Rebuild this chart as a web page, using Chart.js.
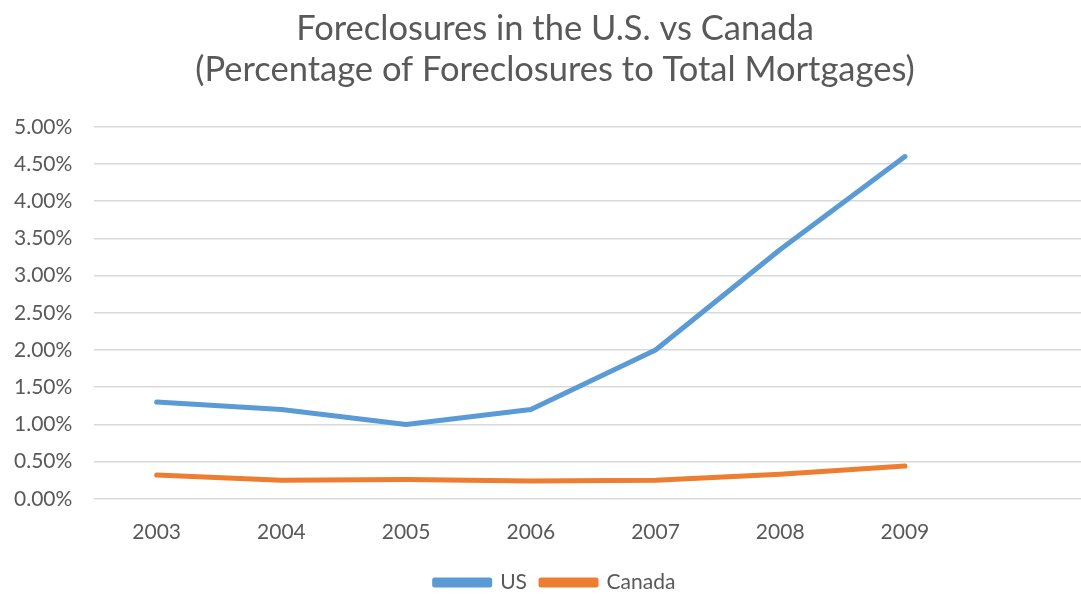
<!DOCTYPE html>
<html>
<head>
<meta charset="utf-8">
<script src="https://cdn.jsdelivr.net/npm/chart.js@4/dist/chart.umd.min.js"></script>
<style>
  html, body { margin: 0; padding: 0; background: #fff; overflow: hidden; }
  /* the source picture is a crop of a wider chart, so the chart runs past the right edge */
  .wrap { width: 1118px; height: 595px; position: relative; }
</style>
</head>
<body>
<div class="wrap"><canvas id="chart"></canvas></div>
<script>
// years on the x axis (last slot is empty, like the original sheet)
const years = ['2003', '2004', '2005', '2006', '2007', '2008', '2009', ''];
// percentage of foreclosures to total mortgages
const usValues = [1.30, 1.20, 1.00, 1.20, 2.00, 3.35, 4.60];
const canadaValues = [0.32, 0.25, 0.26, 0.24, 0.25, 0.33, 0.44];
const yTickMax = 5;
const yTickStep = 0.5;

const grey = '#595959';
Chart.defaults.font.family = 'Lato, "Open Sans", sans-serif';
Chart.defaults.color = grey;

new Chart(document.getElementById('chart'), {
  type: 'line',
  data: {
    labels: years,
    datasets: [
      {
        label: 'US',
        data: usValues,
        borderColor: '#5B9BD5',
        backgroundColor: '#5B9BD5',
        borderWidth: 5,
        pointRadius: 0,
        borderCapStyle: 'round',
        borderJoinStyle: 'round',
        tension: 0
      },
      {
        label: 'Canada',
        data: canadaValues,
        borderColor: '#ED7D31',
        backgroundColor: '#ED7D31',
        borderWidth: 5,
        pointRadius: 0,
        borderCapStyle: 'round',
        borderJoinStyle: 'round',
        tension: 0
      }
    ]
  },
  options: {
    responsive: true,
    maintainAspectRatio: false,
    animation: false,
    layout: { padding: { left: -8, right: 0, top: 8, bottom: -8 } },
    plugins: {
      title: {
        display: true,
        text: ['Foreclosures in the U.S. vs Canada', '(Percentage of Foreclosures to Total Mortgages)'],
        color: grey,
        font: { size: 34.5, weight: 'normal' },
        lineHeight: 1.3,
        padding: { top: 0, bottom: 36 }
      },
      legend: {
        position: 'bottom',
        labels: {
          boxWidth: 55,
          boxHeight: 5,
          font: { size: 21 },
          color: grey,
          padding: 14
        }
      },
      tooltip: { enabled: false }
    },
    scales: {
      x: {
        offset: true,
        grid: { display: false },
        border: { display: false },
        ticks: { font: { size: 21 }, color: grey, padding: 13, maxRotation: 0 }
      },
      y: {
        min: 0,
        max: yTickMax,
        grid: { color: '#D9D9D9', lineWidth: 1.5, drawTicks: false },
        border: { display: false },
        ticks: {
          stepSize: yTickStep,
          font: { size: 21 },
          color: grey,
          padding: 22,
          callback: v => v.toFixed(2) + '%'
        }
      },
      // empty spacer for the right margin of the original chart
      yRight: {
        position: 'right',
        grid: { display: false },
        border: { display: false },
        ticks: { display: false },
        afterFit: s => { s.width = 26; }
      }
    }
  }
});
</script>
</body>
</html>
